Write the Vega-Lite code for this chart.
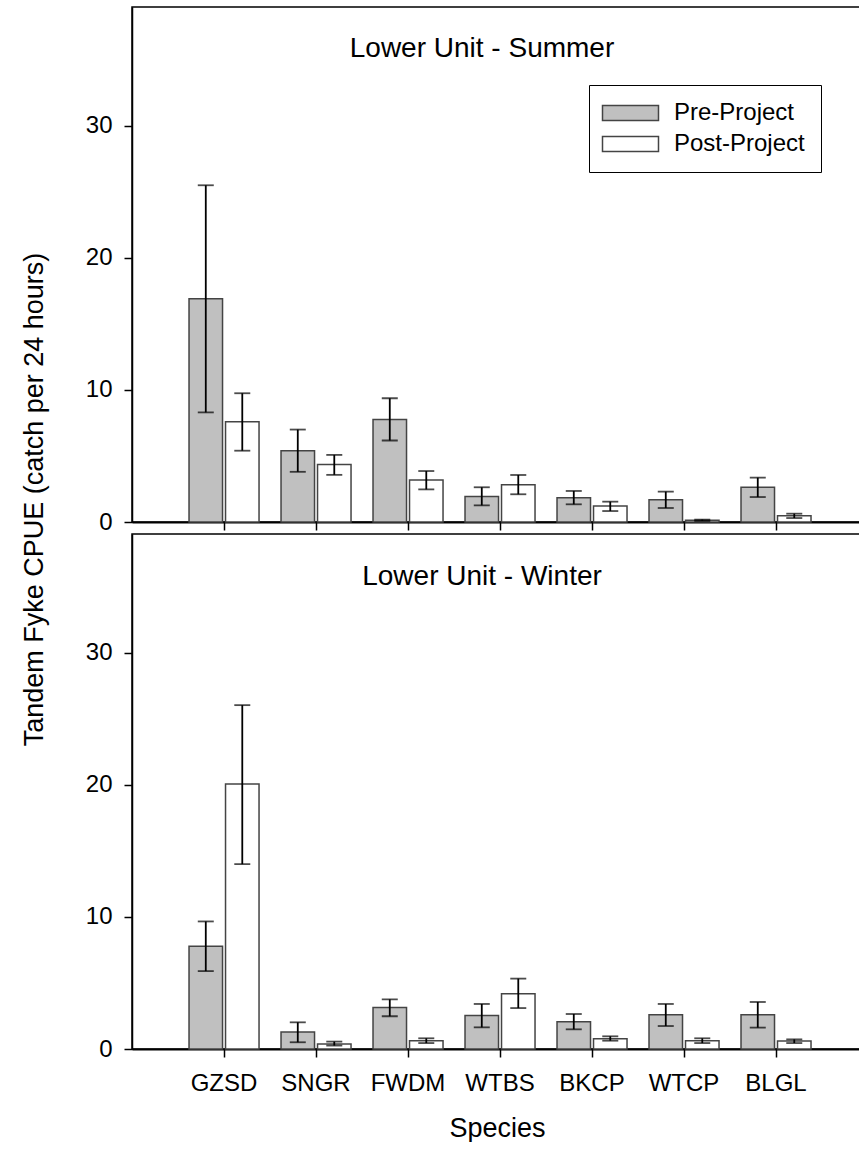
{
  "$schema": "https://vega.github.io/schema/vega-lite/v6.json",
  "background": "white",
  "padding": {"left": 19, "top": 6, "right": 0, "bottom": 0},
  "data": {"values": [
    {"season": "Summer", "species": "GZSD", "period": "Pre-Project", "mean": 16.9, "lo": 8.3, "hi": 25.5},
    {"season": "Summer", "species": "GZSD", "period": "Post-Project", "mean": 7.6, "lo": 5.4, "hi": 9.75},
    {"season": "Summer", "species": "SNGR", "period": "Pre-Project", "mean": 5.4, "lo": 3.8, "hi": 7.0},
    {"season": "Summer", "species": "SNGR", "period": "Post-Project", "mean": 4.35, "lo": 3.57, "hi": 5.08},
    {"season": "Summer", "species": "FWDM", "period": "Pre-Project", "mean": 7.76, "lo": 6.17, "hi": 9.37},
    {"season": "Summer", "species": "FWDM", "period": "Post-Project", "mean": 3.18, "lo": 2.47, "hi": 3.86},
    {"season": "Summer", "species": "WTBS", "period": "Pre-Project", "mean": 1.94, "lo": 1.26, "hi": 2.63},
    {"season": "Summer", "species": "WTBS", "period": "Post-Project", "mean": 2.83, "lo": 2.1, "hi": 3.56},
    {"season": "Summer", "species": "BKCP", "period": "Pre-Project", "mean": 1.84, "lo": 1.34, "hi": 2.35},
    {"season": "Summer", "species": "BKCP", "period": "Post-Project", "mean": 1.21, "lo": 0.83, "hi": 1.54},
    {"season": "Summer", "species": "WTCP", "period": "Pre-Project", "mean": 1.69, "lo": 1.06, "hi": 2.3},
    {"season": "Summer", "species": "WTCP", "period": "Post-Project", "mean": 0.13, "lo": 0.08, "hi": 0.18},
    {"season": "Summer", "species": "BLGL", "period": "Pre-Project", "mean": 2.63, "lo": 1.89, "hi": 3.36},
    {"season": "Summer", "species": "BLGL", "period": "Post-Project", "mean": 0.48, "lo": 0.3, "hi": 0.63},
    {"season": "Winter", "species": "GZSD", "period": "Pre-Project", "mean": 7.79, "lo": 5.9, "hi": 9.66},
    {"season": "Winter", "species": "GZSD", "period": "Post-Project", "mean": 20.06, "lo": 14.0, "hi": 26.04},
    {"season": "Winter", "species": "SNGR", "period": "Pre-Project", "mean": 1.28, "lo": 0.51, "hi": 2.02},
    {"season": "Winter", "species": "SNGR", "period": "Post-Project", "mean": 0.38, "lo": 0.26, "hi": 0.56},
    {"season": "Winter", "species": "FWDM", "period": "Pre-Project", "mean": 3.14, "lo": 2.48, "hi": 3.76},
    {"season": "Winter", "species": "FWDM", "period": "Post-Project", "mean": 0.63, "lo": 0.45, "hi": 0.81},
    {"season": "Winter", "species": "WTBS", "period": "Pre-Project", "mean": 2.53, "lo": 1.64, "hi": 3.41},
    {"season": "Winter", "species": "WTBS", "period": "Post-Project", "mean": 4.19, "lo": 3.1, "hi": 5.33},
    {"season": "Winter", "species": "BKCP", "period": "Pre-Project", "mean": 2.07, "lo": 1.49, "hi": 2.65},
    {"season": "Winter", "species": "BKCP", "period": "Post-Project", "mean": 0.78, "lo": 0.63, "hi": 0.96},
    {"season": "Winter", "species": "WTCP", "period": "Pre-Project", "mean": 2.6, "lo": 1.74, "hi": 3.41},
    {"season": "Winter", "species": "WTCP", "period": "Post-Project", "mean": 0.63, "lo": 0.45, "hi": 0.81},
    {"season": "Winter", "species": "BLGL", "period": "Pre-Project", "mean": 2.6, "lo": 1.62, "hi": 3.56},
    {"season": "Winter", "species": "BLGL", "period": "Post-Project", "mean": 0.6, "lo": 0.45, "hi": 0.73}
  ]},
  "spacing": 12,
  "bounds": "flush",
  "resolve": {"scale": {"fill": "independent"}, "legend": {"fill": "independent"}},
  "vconcat": [
    {
      "width": 730,
      "height": 515,
      "title": {"text": "Lower Unit - Summer", "fontSize": 28, "fontWeight": "normal", "font": "Liberation Sans", "color": "black", "anchor": "middle", "frame": "group", "offset": -78, "baseline": "alphabetic", "dx": -15},
      "transform": [{"filter": "datum.season === 'Summer'"}],
      "encoding": {
        "x": {"field": "species", "type": "nominal", "sort": ["GZSD", "SNGR", "FWDM", "WTBS", "BKCP", "WTCP", "BLGL"],
              "scale": {"paddingInner": 0.239, "paddingOuter": 0.587, "align": 0.528},
              "axis": {"labels": false, "title": null, "ticks": true}},
        "xOffset": {"field": "period", "type": "nominal", "scale": {"domain": ["Pre-Project", "Post-Project"], "paddingInner": 0.082, "paddingOuter": 0}}
      },
      "layer": [
        {
          "mark": {"type": "bar", "stroke": "#444444", "strokeWidth": 1.5},
          "encoding": {
            "y": {"field": "mean", "type": "quantitative", "title": "Tandem Fyke CPUE (catch per 24 hours)",
                  "scale": {"domain": [0, 39], "nice": false},
                  "axis": {"values": [0, 10, 20, 30], "labelPadding": 12, "titleFontSize": 27, "titleAngle": 270, "titleX": -90, "titleY": 492, "titleBaseline": "alphabetic", "titleAlign": "center"}},
            "fill": {"field": "period", "type": "nominal",
                     "scale": {"domain": ["Pre-Project", "Post-Project"], "range": ["#c0c0c0", "#ffffff"]},
                     "legend": {"orient": "none", "legendX": 457, "legendY": 78, "direction": "vertical", "title": null,
                                "labelFontSize": 24, "labelFont": "Liberation Sans", "labelColor": "black",
                                "symbolType": "M-1.933,-1H5.533V1H-1.933Z", "symbolSize": 225, "symbolStrokeColor": "#444444", "symbolStrokeWidth": 1.5,
                                "labelOffset": 45, "strokeColor": "black", "fillColor": "white", "padding": 16, "rowPadding": 7}}
          }
        },
        {
          "mark": {"type": "rule", "color": "black", "strokeWidth": 1.8},
          "encoding": {"y": {"field": "lo", "type": "quantitative", "title": "Tandem Fyke CPUE (catch per 24 hours)"}, "y2": {"field": "hi"}}
        },
        {
          "mark": {"type": "tick", "color": "black", "thickness": 1.8, "size": 16, "orient": "horizontal"},
          "encoding": {"y": {"field": "lo", "type": "quantitative", "title": "Tandem Fyke CPUE (catch per 24 hours)"}}
        },
        {
          "mark": {"type": "tick", "color": "black", "thickness": 1.8, "size": 16, "orient": "horizontal"},
          "encoding": {"y": {"field": "hi", "type": "quantitative", "title": "Tandem Fyke CPUE (catch per 24 hours)"}}
        }
      ]
    },
    {
      "width": 730,
      "height": 515,
      "title": {"text": "Lower Unit - Winter", "fontSize": 28, "fontWeight": "normal", "font": "Liberation Sans", "color": "black", "anchor": "middle", "frame": "group", "offset": -79, "baseline": "alphabetic", "dx": -15},
      "transform": [{"filter": "datum.season === 'Winter'"}],
      "encoding": {
        "x": {"field": "species", "type": "nominal", "sort": ["GZSD", "SNGR", "FWDM", "WTBS", "BKCP", "WTCP", "BLGL"],
              "scale": {"paddingInner": 0.239, "paddingOuter": 0.587, "align": 0.528},
              "axis": {"title": "Species", "labelAngle": 0, "labelPadding": 14, "titleFontSize": 27, "titlePadding": 20}},
        "xOffset": {"field": "period", "type": "nominal", "scale": {"domain": ["Pre-Project", "Post-Project"], "paddingInner": 0.082, "paddingOuter": 0}}
      },
      "layer": [
        {
          "mark": {"type": "bar", "stroke": "#444444", "strokeWidth": 1.5},
          "encoding": {
            "y": {"field": "mean", "type": "quantitative", "title": null,
                  "scale": {"domain": [0, 39], "nice": false},
                  "axis": {"values": [0, 10, 20, 30], "labelPadding": 12}},
            "fill": {"field": "period", "type": "nominal",
                     "scale": {"domain": ["Pre-Project", "Post-Project"], "range": ["#c0c0c0", "#ffffff"]},
                     "legend": null}
          }
        },
        {
          "mark": {"type": "rule", "color": "black", "strokeWidth": 1.8},
          "encoding": {"y": {"field": "lo", "type": "quantitative", "title": null}, "y2": {"field": "hi"}}
        },
        {
          "mark": {"type": "tick", "color": "black", "thickness": 1.8, "size": 16, "orient": "horizontal"},
          "encoding": {"y": {"field": "lo", "type": "quantitative", "title": null}}
        },
        {
          "mark": {"type": "tick", "color": "black", "thickness": 1.8, "size": 16, "orient": "horizontal"},
          "encoding": {"y": {"field": "hi", "type": "quantitative", "title": null}}
        }
      ]
    }
  ],
  "config": {
    "font": "Liberation Sans",
    "view": {"stroke": "black", "strokeWidth": 1.5},
    "axis": {"grid": false, "domainColor": "black", "domainWidth": 1.5, "tickColor": "black", "tickWidth": 1.5, "tickSize": 8,
             "labelFont": "Liberation Sans", "labelFontSize": 24, "labelColor": "black",
             "titleFont": "Liberation Sans", "titleColor": "black", "titleFontWeight": "normal"},
    "axisX": {"domainWidth": 2}
  }
}
